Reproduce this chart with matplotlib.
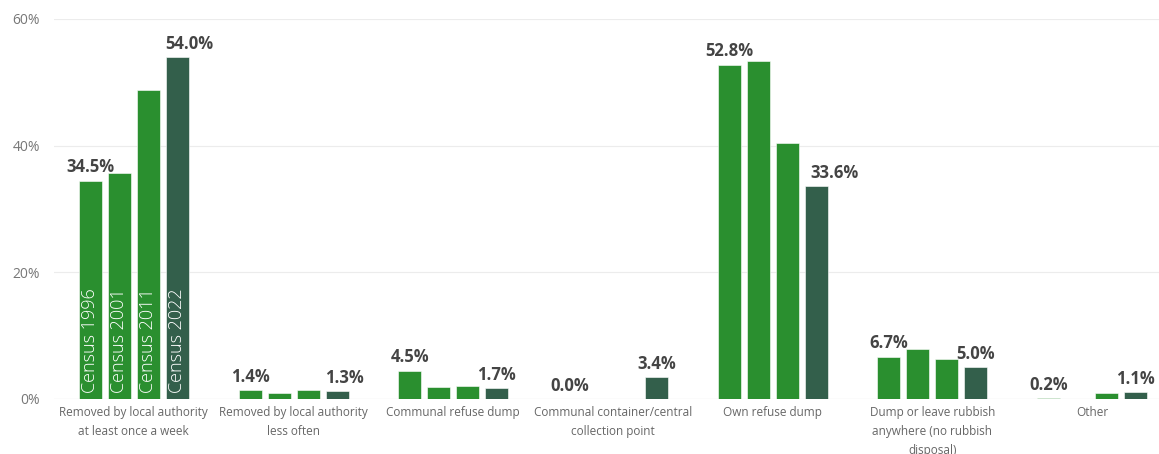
import matplotlib
matplotlib.use("Agg")
import matplotlib.pyplot as plt
import numpy as np

plt.rcParams['font.family'] = ['Open Sans', 'DejaVu Sans']

categories = [
    "Removed by local authority\nat least once a week",
    "Removed by local authority\nless often",
    "Communal refuse dump",
    "Communal container/central\ncollection point",
    "Own refuse dump",
    "Dump or leave rubbish\nanywhere (no rubbish\ndisposal)",
    "Other",
]
series_names = ["Census 1996", "Census 2001", "Census 2011", "Census 2022"]
census_1996 = [34.5, 1.4, 4.5, 0.0, 52.8, 6.7, 0.2]
census_2001 = [35.7, 1.0, 1.9, None, 53.3, 7.9, None]
census_2011 = [48.8, 1.5, 2.0, None, 40.4, 6.3, 1.0]
census_2022 = [54.0, 1.3, 1.7, 3.4, 33.6, 5.0, 1.1]
y_ticks = [0, 20, 40, 60]

series = [census_1996, census_2001, census_2011, census_2022]
colors = ["#2a8f2f", "#2a8f2f", "#2a8f2f", "#335f4b"]

fig = plt.figure(figsize=(11.59, 4.54), dpi=100)
ax = fig.add_axes([54/1159, 55/454, 1118/1159, 380/454])

x = np.arange(len(categories))
step = 0.1816
width = 0.144
offsets = (np.arange(4) - 1.5) * step

for s, vals in enumerate(series):
    v = np.array([np.nan if a is None else a for a in vals], dtype=float)
    ax.bar(x + offsets[s], v, width=width, color=colors[s], zorder=3,
           edgecolor="white", linewidth=0.4)
    # series name inside first group's bar
    ax.text(x[0] + offsets[s], 1.0, series_names[s], rotation=90,
            ha="center", va="bottom", color="white", fontsize=13,
            fontweight="light", zorder=4)

# value labels on first and last series
last_shift = [12, 7, 0, 0, 18, 0, 0]
for i in range(len(categories)):
    ax.annotate(f"{census_1996[i]:.1f}%", (x[i] + offsets[0], census_1996[i]),
                xytext=(0, 3), textcoords="offset points", ha="center",
                va="bottom", fontsize=12, fontweight="bold", color="#444444")
    ax.annotate(f"{census_2022[i]:.1f}%", (x[i] + offsets[3], census_2022[i]),
                xytext=(last_shift[i] * 0.72, 3), textcoords="offset points",
                ha="center", va="bottom", fontsize=12, fontweight="bold",
                color="#444444")

ax.set_xlim(-0.5, len(categories) - 0.5)
ax.set_ylim(0, 60)
ax.set_yticks(y_ticks)
ax.set_yticklabels([f"{t}%" for t in y_ticks])
ax.set_xticks(x)
ax.set_xticklabels(categories, fontsize=8.5, color="#666666", linespacing=1.6)
ax.tick_params(axis="y", length=0, labelsize=10, labelcolor="#777777", pad=10)
ax.tick_params(axis="x", length=0, pad=5)
ax.grid(axis="y", color="#ececec", linewidth=0.8, zorder=0)
for sp in ax.spines.values():
    sp.set_visible(False)
ax.axhline(0, color="#dddddd", linewidth=0.8, zorder=2)

fig.savefig("out.png", dpi=100)
